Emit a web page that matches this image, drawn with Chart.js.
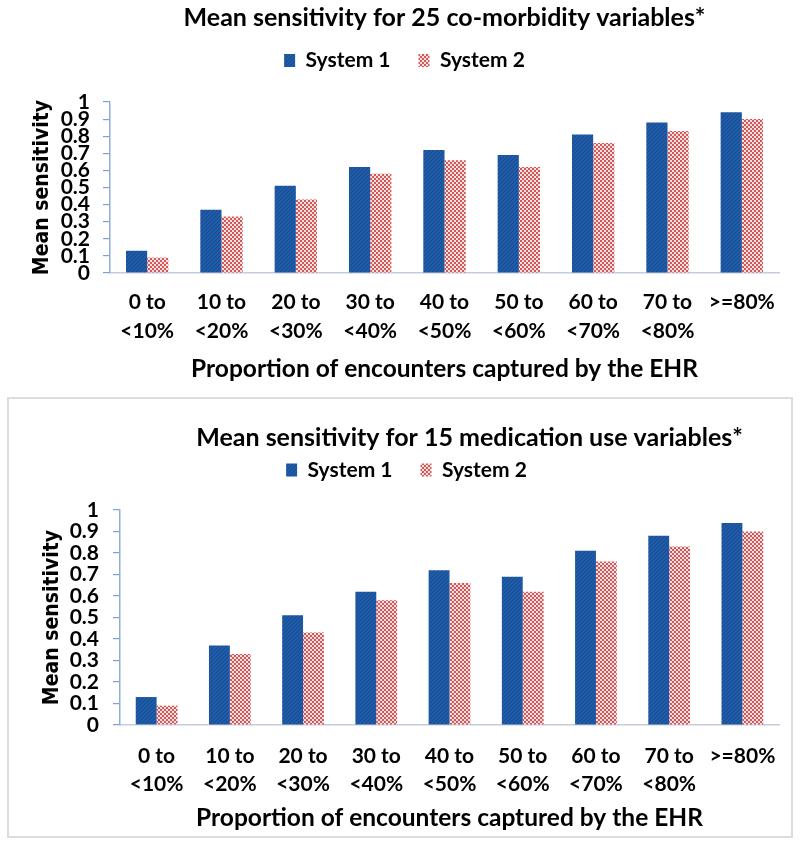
<!DOCTYPE html>
<html><head><meta charset="utf-8">
<script src="https://cdn.jsdelivr.net/npm/chart.js@4.4.1/dist/chart.umd.min.js"></script>
<style>
html,body{margin:0;padding:0;background:#fff;}
#wrap{position:relative;width:800px;height:846px;overflow:hidden;}
#c1{position:absolute;left:0;top:0;}
#box{position:absolute;left:7px;top:397px;width:786px;height:441px;border:2px solid #DDDDDD;box-sizing:border-box;}
#c2{position:absolute;left:0;top:397px;}
</style></head><body>
<div id="wrap">
<canvas id="c1" width="800" height="395"></canvas>
<div id="box"></div>
<canvas id="c2" width="800" height="441"></canvas>
</div>
<script>
// ---- data ----
const categories = [["0 to","<10%"],["10 to","<20%"],["20 to","<30%"],["30 to","<40%"],["40 to","<50%"],["50 to","<60%"],["60 to","<70%"],["70 to","<80%"],[">=80%"]];
const seriesNames = ["System 1","System 2"];
const comorbiditySystem1 = [0.13,0.37,0.51,0.62,0.72,0.69,0.81,0.88,0.94];
const comorbiditySystem2 = [0.09,0.33,0.43,0.58,0.66,0.62,0.76,0.83,0.90];
const medicationSystem1 = [0.13,0.37,0.51,0.62,0.72,0.69,0.81,0.88,0.94];
const medicationSystem2 = [0.09,0.33,0.43,0.58,0.66,0.62,0.76,0.83,0.90];
const yTickLabels = ["0","0.1","0.2","0.3","0.4","0.5","0.6","0.7","0.8","0.9","1"];
const titleTop = "Mean sensitivity for 25 co-morbidity variables*";
const titleBottom = "Mean sensitivity for 15 medication use variables*";
const xTitle = "Proportion of encounters captured by the EHR";
const yTitle = "Mean sensitivity";

// ---- patterns ----
function bluePattern(){
  const c = document.createElement('canvas'); c.width = 4; c.height = 4;
  const x = c.getContext('2d');
  x.fillStyle = '#1F5BA6'; x.fillRect(0,0,4,4);
  x.fillStyle = '#174A8E';
  for (let i=0;i<4;i++){ x.fillRect(i,3-i,1,1); }
  return x.createPattern(c,'repeat');
}
function pinkPattern(){
  const c = document.createElement('canvas'); c.width = 4; c.height = 4;
  const x = c.getContext('2d');
  x.fillStyle = '#F8E0E0'; x.fillRect(0,0,4,4);
  x.fillStyle = '#D2585A'; x.fillRect(0,0,2,2); x.fillRect(2,2,2,2);
  return x.createPattern(c,'repeat');
}

const tweak = {
  id: 'tweak',
  beforeLayout(chart, args, opts){
    const lg = chart.legend;
    if (lg && !lg._patched){
      const orig = lg.fit;
      lg.fit = function(){ orig.call(this); this.height = opts.legendHeight; };
      lg._patched = true;
    }
  },
  afterLayout(chart, args, opts){
    const t = chart.titleBlock, l = chart.legend;
    if (t){ t.left += opts.titleDx; t.right += opts.titleDx; }
    if (l){ l.left += opts.legendDx; l.right += opts.legendDx; l.top += opts.legendDy; l.bottom += opts.legendDy; }
  }
};

function makeChart(id, title, s1, s2, cfg){
  const font = 'Lato';
  return new Chart(document.getElementById(id), {
    type: 'bar',
    data: {
      labels: categories,
      datasets: [
        {label: seriesNames[0], data: s1, backgroundColor: bluePattern(), borderWidth: 0},
        {label: seriesNames[1], data: s2, backgroundColor: pinkPattern(), borderWidth: 0}
      ]
    },
    plugins: [tweak],
    options: {
      responsive: false,
      animation: false,
      devicePixelRatio: 1,
      layout: {padding: {left: cfg.padLeft, right: 21, top: 0, bottom: 0}},
      datasets: {bar: {categoryPercentage: 0.57, barPercentage: 1.0}},
      plugins: {
        tooltip: {enabled: false},
        title: {display: true, text: title, color: '#000',
          font: {family: font, weight: 'bold', size: 25, lineHeight: 1.2},
          padding: {top: cfg.titlePadTop, bottom: 0}},
        legend: {display: true, position: 'top',
          labels: {color: '#000', boxWidth: 11, boxHeight: 13, padding: 28,
            font: {family: font, weight: 'bold', size: 21}}},
        tweak: {legendHeight: cfg.legendHeight, titleDx: cfg.titleDx, legendDx: cfg.legendDx, legendDy: cfg.legendDy}
      },
      scales: {
        x: {
          grid: {display: false, drawTicks: false},
          border: {display: true, color: '#C5CCDD', width: 1.5},
          ticks: {color: '#000', padding: cfg.xTickPad, maxRotation: 0, autoSkip: false,
            font: {family: font, weight: 'bold', size: 21, lineHeight: cfg.xLineHeight}},
          title: {display: true, text: xTitle, color: '#000',
            font: {family: font, weight: 'bold', size: 24.5, lineHeight: 1.2},
            padding: {top: 0, bottom: cfg.xTitlePadBottom}},
          afterFit(scale){ scale.height = cfg.xHeight; }
        },
        y: {
          min: 0, max: 1,
          grid: {drawOnChartArea: false, drawTicks: true, tickLength: 7, color: '#7EA1CF', lineWidth: 1.2},
          border: {display: true, color: '#8FAED6', width: 1.5},
          ticks: {stepSize: 0.1, autoSkip: false, color: '#000', padding: cfg.yTickPad,
            font: {family: font, weight: 'bold', size: 21, lineHeight: 1},
            callback: (v, i) => yTickLabels[i]},
          title: {display: true, text: yTitle, color: '#000',
            font: {family: 'DejaVu Sans Condensed', weight: 'bold', size: 21, lineHeight: 1.2},
            padding: {top: 0, bottom: 0}},
          afterFit(scale){ scale.width = 80; }
        }
      }
    }
  });
}

makeChart('c1', titleTop, comorbiditySystem1, comorbiditySystem2, {
  padLeft: 30, titlePadTop: 3, legendHeight: 69, titleDx: 40, legendDx: 0, legendDy: -11,
  xTickPad: 15, xLineHeight: 1.38, xTitlePadBottom: 11.3, xHeight: 122, yTickPad: 13
});
makeChart('c2', titleBottom, medicationSystem1, medicationSystem2, {
  padLeft: 40, titlePadTop: 26, legendHeight: 57, titleDx: 60, legendDx: -3, legendDy: -21.5,
  xTickPad: 17, xLineHeight: 1.33, xTitlePadBottom: 5.3, xHeight: 113, yTickPad: 14
});
</script>
</body></html>
